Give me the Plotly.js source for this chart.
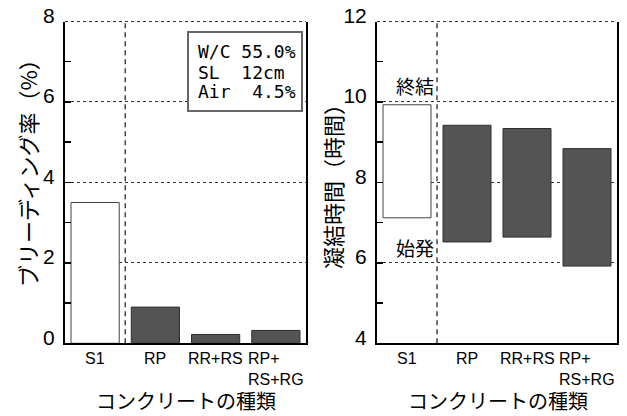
<!DOCTYPE html>
<html>
<head>
<meta charset="utf-8">
<script src="https://cdn.plot.ly/plotly-3.0.1.min.js"></script>
<style>
  html, body { margin: 0; padding: 0; background: #fff; }
  #chart { width: 627px; height: 416px; }
</style>
</head>
<body>
<div id="chart"></div>
<script>
// Concrete types on the horizontal axis
const categories = ['S1', 'RP', 'RR+RS', 'RP+<br>RS+RG'];
// Bleeding rate (%)
const bleedingRate = [3.5, 0.9, 0.22, 0.32];
// Setting time (hours): initial and final set
const initialSet = [7.12, 6.52, 6.64, 5.92];
const finalSet = [9.93, 9.42, 9.34, 8.84];
// Mix conditions shown in the box
const infoLines = ['W/C 55.0%', 'SL  12cm', 'Air  4.5%'];
// Text labels
const leftTitle = 'ブリーディング率（%）';
const rightTitle = '凝結時間（時間）';
const xTitle = 'コンクリートの種類';
const finalLabel = '終結';
const initialLabel = '始発';

const W = 627, H = 416;
const px = v => v / W;
const py = v => (H - v) / H;

const JP = '"Noto Sans CJK JP", "Noto Sans", sans-serif';
const SANS = '"Liberation Sans", Arial, sans-serif';
const MONO = '"DejaVu Sans Mono", "Liberation Mono", monospace';

const WHITE = '#ffffff';
const DARK = '#545454';
const barColors = categories.map(c => c === 'S1' ? WHITE : DARK);
const barLines = categories.map(c => c === 'S1' ? '#444444' : '#2e2e2e');

const plotTop = 21.5, plotBottom = 343.3;

function xAxis(domain, anchor) {
  return {
    domain: domain, anchor: anchor, type: 'category',
    categoryorder: 'array', categoryarray: categories,
    range: [-0.5, categories.length - 0.5],
    showline: true, linecolor: '#000', linewidth: 2,
    ticks: '', showticklabels: false, showgrid: false, zeroline: false,
    fixedrange: true
  };
}
function yAxis(range, anchor) {
  return {
    domain: [py(plotBottom), py(plotTop)], anchor: anchor,
    range: range, tick0: range[0], dtick: 2,
    ticks: 'inside', ticklen: 6, tickwidth: 1.5, tickcolor: '#000',
    showline: true, mirror: true, linecolor: '#000', linewidth: 2,
    showgrid: true, gridcolor: '#333', gridwidth: 1, griddash: 'dot',
    zeroline: false,
    minor: { dtick: 1, tick0: range[0], ticks: 'inside', ticklen: 6, tickwidth: 1.5, tickcolor: '#000', showgrid: false },
    tickfont: { family: SANS, size: 21, color: '#000' },
    ticklabelstandoff: 4, ticklabelshift: -6,
    fixedrange: true
  };
}

const traces = [
  {
    type: 'bar', x: categories, y: bleedingRate,
    xaxis: 'x', yaxis: 'y',
    marker: { color: barColors, line: { color: barLines, width: 1 } },
    hoverinfo: 'skip'
  },
  {
    type: 'bar', x: categories,
    base: initialSet,
    y: finalSet.map((v, i) => v - initialSet[i]),
    xaxis: 'x2', yaxis: 'y2',
    marker: { color: barColors, line: { color: barLines, width: 1 } },
    hoverinfo: 'skip'
  }
];

const nb = s => s.replace(/ /g, '\u00a0');

const annotations = [];
// category labels under each panel
['x', 'x2'].forEach(xr => {
  categories.forEach((c, i) => {
    annotations.push({
      xref: xr, yref: 'paper', x: i, y: py(plotBottom),
      xanchor: 'center', yanchor: 'top', align: 'left', yshift: -5,
      text: c, showarrow: false,
      font: { family: SANS, size: 16, color: '#000' }
    });
  });
});
// axis titles
annotations.push(
  { xref: 'paper', yref: 'paper', x: px(186), y: py(400), text: xTitle, showarrow: false,
    xanchor: 'center', yanchor: 'middle', font: { family: JP, size: 20, color: '#000' } },
  { xref: 'paper', yref: 'paper', x: px(498), y: py(400), text: xTitle, showarrow: false,
    xanchor: 'center', yanchor: 'middle', font: { family: JP, size: 20, color: '#000' } },
  { xref: 'paper', yref: 'paper', x: px(27), y: py(168), text: leftTitle, showarrow: false, textangle: -90,
    xanchor: 'center', yanchor: 'middle', font: { family: JP, size: 22, color: '#000' } },
  { xref: 'paper', yref: 'paper', x: px(332), y: py(181), text: rightTitle, showarrow: false, textangle: -90,
    xanchor: 'center', yanchor: 'middle', font: { family: JP, size: 22, color: '#000' } }
);
// mix conditions box text
const infoY = [51, 72, 91];
infoLines.forEach((t, i) => {
  annotations.push({
    xref: 'paper', yref: 'paper', x: px(196), y: py(infoY[i]),
    xanchor: 'left', yanchor: 'middle', text: nb(t), showarrow: false,
    font: { family: MONO, size: 18, color: '#000' }
  });
});
// setting labels next to the S1 bar
annotations.push(
  { xref: 'x2', yref: 'y2', x: 0, y: finalSet[0], text: finalLabel, showarrow: false,
    xanchor: 'center', yanchor: 'middle', xshift: 8, yshift: 19,
    font: { family: JP, size: 19, color: '#000' } },
  { xref: 'x2', yref: 'y2', x: 0, y: initialSet[0], text: initialLabel, showarrow: false,
    xanchor: 'center', yanchor: 'middle', xshift: 8, yshift: -30,
    font: { family: JP, size: 19, color: '#000' } }
);

const gridLine = { color: '#333', width: 1, dash: 'dot' };
const shapes = [
  // top gridline of each panel
  { type: 'line', xref: 'x domain', yref: 'y domain', x0: 0, x1: 1, y0: 1, y1: 1, line: gridLine },
  { type: 'line', xref: 'x2 domain', yref: 'y2 domain', x0: 0, x1: 1, y0: 1, y1: 1, line: gridLine },
  // separators between the reference mix and the recycled mixes
  { type: 'line', xref: 'x', yref: 'y domain', x0: 0.5, x1: 0.5, y0: 0, y1: 1,
    line: { color: '#444', width: 1.5, dash: '5px,4px' }, layer: 'below' },
  { type: 'line', xref: 'x2', yref: 'y2 domain', x0: 0.5, x1: 0.5, y0: 0, y1: 1,
    line: { color: '#444', width: 1.5, dash: '5px,4px' }, layer: 'below' },
  // box around the mix conditions
  { type: 'rect', xref: 'paper', yref: 'paper', x0: px(188), x1: px(302), y0: py(111), y1: py(32),
    line: { color: '#666', width: 2 }, fillcolor: 'rgba(255,255,255,1)' }
];

const layout = {
  width: W, height: H,
  margin: { l: 0, r: 0, t: 0, b: 0, pad: 0 },
  paper_bgcolor: '#fff', plot_bgcolor: '#fff',
  showlegend: false, bargap: 0.2,
  xaxis: xAxis([px(65), px(306)], 'y'),
  yaxis: yAxis([0, 8], 'x'),
  xaxis2: xAxis([px(377), px(617)], 'y2'),
  yaxis2: yAxis([4, 12], 'x2'),
  annotations: annotations,
  shapes: shapes
};

Plotly.newPlot('chart', traces, layout, { displayModeBar: false, staticPlot: true });
</script>
</body>
</html>
